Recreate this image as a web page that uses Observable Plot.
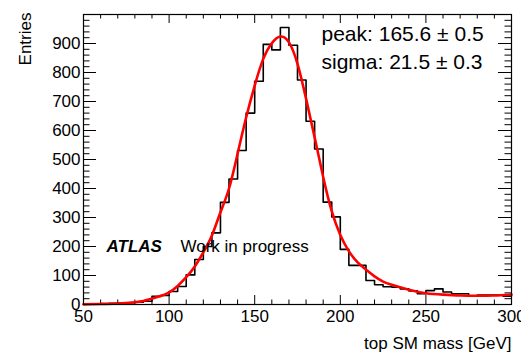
<!DOCTYPE html>
<html><head><meta charset="utf-8">
<script src="https://cdn.jsdelivr.net/npm/d3@7"></script>
<script src="https://cdn.jsdelivr.net/npm/@observablehq/plot@0.6"></script>
<style>html,body{margin:0;padding:0;background:#fff} svg{display:block}</style>
</head><body><div id="chart"></div>
<script>
// Histogram bins (lower edges, width 5 GeV) and entries
const binLow = [50,55,60,65,70,75,80,85,90,95,100,105,110,115,120,125,130,135,140,145,150,155,160,165,170,175,180,185,190,195,200,205,210,215,220,225,230,235,240,245,250,255,260,265,270,275,280,285,290,295];
const binCounts = [1,2,3,4,5,6,8,11,28,31,45,62,102,155,200,247,352,433,531,660,770,897,878,955,894,774,632,536,353,302,190,135,135,83,68,61,60,54,47,37,48,54,43,37,37,29,33,33,33,29];
const binUpper = 300;
// Fit curve
const fitX = [50,60,70,80,85,90,95,100,105,110,115,120,125,130,135,140,145,150,155,160,165,170,175,180,185,190,195,200,205,210,215,220,225,230,240,250,260,270,280,290,300];
const fitY = [0.5,1.5,3.5,8,12,20,29,42,64,94,131,180,238,318,400,520,645,755,847,901,924,904,830,710,577,440,322,240,184,146,120,97,79,68,51,39,34,31,30,31,34];
// Axes
const xTickLabels = [50,100,150,200,250,300];
const yTickLabels = [0,100,200,300,400,500,600,700,800,900];
const xDomain = [50,300];
const yDomain = [0,1000];
const xTitle = "top SM mass [GeV]";
const yTitle = "Entries";
const fitLines = ["peak: 165.6 \u00b1 0.5", "sigma: 21.5 \u00b1 0.3"];

const W = 521, H = 354, mL = 83, mR = 10, mT = 14, mB = 50;
const fw = W - mL - mR, fh = H - mT - mB;
const xMinor = d3.range(xDomain[0], xDomain[1] + 0.1, 10).filter(v => !xTickLabels.includes(v));
const yMajor = d3.range(yDomain[0], yDomain[1] + 0.1, 100);
const yMinor = d3.range(yDomain[0], yDomain[1] + 0.1, 20).filter(v => !yMajor.includes(v));
const hist = binLow.map((x, i) => ({x, y: binCounts[i]})).concat([{x: binUpper, y: binCounts[binCounts.length - 1]}]);
const fit = fitX.map((x, i) => ({x, y: fitY[i]}));
const xL = 9, xS = 4.5, yL = 13, yS = 6.5;

const chart = Plot.plot({
  width: W, height: H,
  marginLeft: mL, marginRight: mR, marginTop: mT, marginBottom: mB,
  x: {domain: xDomain, axis: null},
  y: {domain: yDomain, axis: null},
  style: {fontFamily: "'Liberation Sans', Arial, sans-serif", background: "#fff", color: "#000", overflow: "visible"},
  marks: [
    // ticks (inward, ROOT style) on all four sides
    Plot.ruleX(xTickLabels, {insetTop: fh - xL, stroke: "#000", strokeWidth: 1}),
    Plot.ruleX(xMinor, {insetTop: fh - xS, stroke: "#000", strokeWidth: 1}),
    Plot.ruleX(xTickLabels, {insetBottom: fh - xL, stroke: "#000", strokeWidth: 1}),
    Plot.ruleX(xMinor, {insetBottom: fh - xS, stroke: "#000", strokeWidth: 1}),
    Plot.ruleY(yMajor, {insetRight: fw - yL, stroke: "#000", strokeWidth: 1}),
    Plot.ruleY(yMinor, {insetRight: fw - yS, stroke: "#000", strokeWidth: 1}),
    Plot.ruleY(yMajor, {insetLeft: fw - yL, stroke: "#000", strokeWidth: 1}),
    Plot.ruleY(yMinor, {insetLeft: fw - yS, stroke: "#000", strokeWidth: 1}),
    Plot.axisX({ticks: xTickLabels, tickSize: 0, tickPadding: 5, fontSize: 17, label: null}),
    Plot.axisY({ticks: yTickLabels, tickSize: 0, tickPadding: 3, fontSize: 17, label: null}),
    Plot.line(hist, {x: "x", y: "y", curve: "step-after", stroke: "#000", strokeWidth: 1.6}),
    Plot.line(fit, {x: "x", y: "y", curve: "natural", stroke: "#ff0000", strokeWidth: 2.6}),
    Plot.frame({stroke: "#000", strokeWidth: 1.2}),
    Plot.text([xTitle], {frameAnchor: "bottom-right", dy: 44, textAnchor: "end", lineAnchor: "bottom", fontSize: 17}),
    Plot.text([yTitle], {frameAnchor: "top-left", dx: -53, dy: -2, rotate: -90, textAnchor: "end", lineAnchor: "bottom", fontSize: 17}),
    Plot.text([fitLines[0]], {frameAnchor: "top-left", dx: 321 - mL, dy: 40 - mT, textAnchor: "start", lineAnchor: "bottom", fontSize: 21}),
    Plot.text([fitLines[1]], {frameAnchor: "top-left", dx: 321 - mL, dy: 68 - mT, textAnchor: "start", lineAnchor: "bottom", fontSize: 21}),
    Plot.text(["ATLAS"], {frameAnchor: "top-left", dx: 106 - mL, dy: 251 - mT, textAnchor: "start", lineAnchor: "bottom", fontSize: 17, fontWeight: "bold", fontStyle: "italic"}),
    Plot.text(["Work in progress"], {frameAnchor: "top-left", dx: 180 - mL, dy: 251 - mT, textAnchor: "start", lineAnchor: "bottom", fontSize: 17})
  ]
});
document.getElementById("chart").appendChild(chart);
</script>
</body></html>
